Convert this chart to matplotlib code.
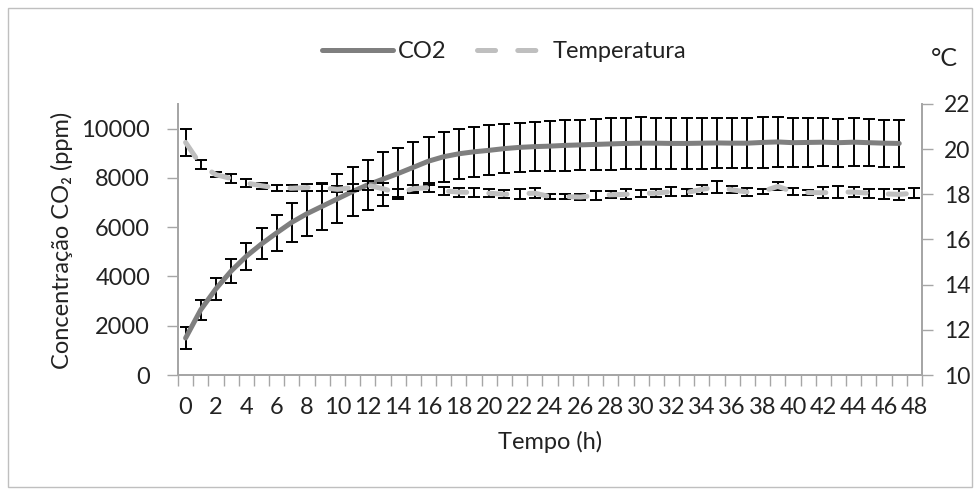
import matplotlib
matplotlib.use("Agg")
import matplotlib.pyplot as plt
import numpy as np
from matplotlib.patches import Rectangle

plt.rcParams['font.family'] = ['Lato', 'DejaVu Sans']
plt.rcParams['lines.scale_dashes'] = False

# hours (categories 0..48)
hours = list(range(49))

# CO2 concentration (ppm), measured 0..47 h
co2 = [1500, 2650, 3500, 4220, 4820, 5320, 5770, 6200, 6550, 6850,
       7150, 7450, 7720, 7950, 8180, 8430, 8680, 8860, 8980, 9060,
       9120, 9190, 9240, 9270, 9290, 9320, 9340, 9360, 9380, 9400,
       9410, 9410, 9400, 9400, 9410, 9420, 9410, 9410, 9440, 9460,
       9430, 9440, 9450, 9430, 9450, 9430, 9410, 9400]
co2_err = [450, 400, 440, 490, 540, 630, 720, 790, 910, 950,
           990, 1000, 1020, 1090, 1040, 1010, 970, 1020, 1010, 1010,
           1010, 1010, 1000, 1000, 1000, 1020, 1020, 1030, 1040, 1040,
           1050, 1040, 1030, 1030, 1030, 1030, 1020, 1020, 1030, 1030,
           1000, 990, 980, 980, 970, 960, 950, 940]

# temperature (deg C), measured 0..48 h
temp = [20.3, 19.3, 18.87, 18.7, 18.5, 18.38, 18.28, 18.27, 18.3, 18.3,
        18.22, 18.3, 18.4, 18.25, 18.05, 18.25, 18.3, 18.15, 18.1, 18.08,
        18.05, 18.0, 18.03, 18.05, 17.9, 17.9, 17.88, 17.95, 17.98, 18.0,
        18.05, 18.05, 18.12, 18.08, 18.22, 18.32, 18.2, 18.1, 18.13, 18.35,
        18.12, 18.08, 18.07, 18.1, 18.1, 18.05, 18.02, 18.0, 18.05]
temp_err = [0.6, 0.2, 0.12, 0.2, 0.16, 0.13, 0.13, 0.13, 0.17, 0.15,
            0.13, 0.15, 0.2, 0.27, 0.18, 0.18, 0.18, 0.17, 0.2, 0.2,
            0.18, 0.18, 0.22, 0.22, 0.1, 0.12, 0.14, 0.2, 0.15, 0.22,
            0.15, 0.18, 0.2, 0.15, 0.2, 0.26, 0.15, 0.16, 0.12, 0.18,
            0.15, 0.12, 0.24, 0.26, 0.22, 0.2, 0.22, 0.24, 0.22]

text_col = '#222222'
axis_col = '#a6a6a6'
fs = 17

fig = plt.figure(figsize=(9.79, 4.95), dpi=100)
fig.patches.append(Rectangle((8 / 979, 8 / 495), 964 / 979, 479 / 495,
                             transform=fig.transFigure, fill=False,
                             edgecolor='#bfbfbf', linewidth=1, zorder=0))

ax = fig.add_axes([178 / 979, 1 - 375 / 495, 744 / 979, 271 / 495])
ax2 = ax.twinx()

x_co2 = hours[:len(co2)]
ax.errorbar(x_co2, co2, yerr=co2_err, fmt='none', ecolor='black',
            elinewidth=1.4, capsize=4, capthick=1.4, zorder=2)
line_co2, = ax.plot(x_co2, co2, color='#7f7f7f', linewidth=3.6,
                    solid_capstyle='round', zorder=3, label='CO2')

ax2.errorbar(hours, temp, yerr=temp_err, fmt='none', ecolor='black',
             elinewidth=1.4, capsize=4, capthick=1.4, zorder=2)
line_temp, = ax2.plot(hours, temp, color='#bfbfbf', linewidth=3.6,
                      linestyle=(0, (13, 16)), dash_capstyle='round',
                      zorder=3, label='Temperatura')

ax.set_xlim(-0.5, 48.5)
ax.set_ylim(0, 11000)
ax.set_yticks(range(0, 10001, 2000))
ax2.set_ylim(10, 22)
ax2.set_yticks(range(10, 23, 2))

ax.set_xticks(range(0, 49, 2))
ax.set_xticks(np.arange(-0.5, 49, 1), minor=True)
ax.tick_params(axis='x', which='major', length=0, pad=16,
               labelsize=fs, labelcolor=text_col)
ax.tick_params(axis='x', which='minor', length=8, width=1,
               color=axis_col, direction='out')
ax.tick_params(axis='y', length=8, width=1, color=axis_col,
               labelsize=fs, labelcolor=text_col, pad=12)
ax2.tick_params(axis='y', length=8, width=1, color=axis_col,
                labelsize=fs - 0.5, labelcolor=text_col, pad=8)

for a in (ax, ax2):
    a.spines['top'].set_visible(False)
    for s in ('left', 'right', 'bottom'):
        a.spines[s].set_color(axis_col)
        a.spines[s].set_linewidth(1.3)

fig.text(62 / 979, 1 - 240 / 495, 'Concentração CO₂ (ppm)', rotation=90,
         ha='center', va='center', fontsize=fs, color=text_col)
fig.text(550 / 979, 1 - 442 / 495, 'Tempo (h)', ha='center', va='center',
         fontsize=fs, color=text_col)
fig.text(944 / 979, 1 - 58 / 495, '°C', ha='center', va='center',
         fontsize=fs + 1, color=text_col)

fig.legend(handles=[line_co2, line_temp], loc='center',
           bbox_to_anchor=(504 / 979, 1 - 52 / 495), ncol=2, frameon=False,
           fontsize=fs, handlelength=3.0, handletextpad=0.2,
           columnspacing=1.3, labelcolor=text_col)

fig.savefig('out.png', dpi=100)
